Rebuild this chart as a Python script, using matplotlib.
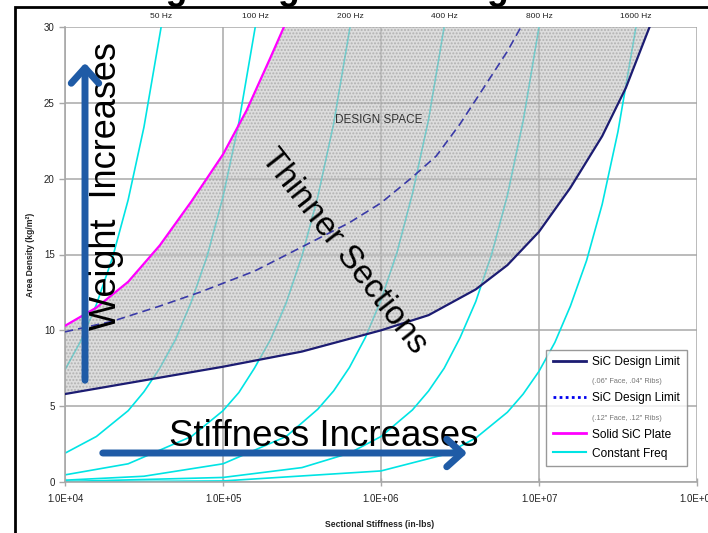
import matplotlib
matplotlib.use("Agg")
import matplotlib.pyplot as plt
from matplotlib.lines import Line2D
from matplotlib.patches import Rectangle
from matplotlib.ticker import FixedLocator, FixedFormatter, NullLocator

plt.rcParams['font.family'] = ['Liberation Sans', 'DejaVu Sans']

# ---------------- data ----------------
# Constant-frequency curves (stiffness in in-lbs, area density in kg/m^2)
stiff_50 = [1.0e4, 1.26e4, 1.58e4, 2.0e4, 2.51e4, 3.16e4, 4.06e4]
dens_50 = [7.4, 9.3, 11.7, 14.8, 18.6, 23.4, 30.0]

stiff_100 = [1.0e4, 1.58e4, 2.51e4, 3.16e4, 3.98e4, 5.01e4, 6.31e4, 7.94e4, 1.0e5, 1.26e5, 1.6e5]
dens_100 = [1.9, 3.0, 4.7, 5.95, 7.5, 9.4, 11.9, 14.9, 18.8, 23.7, 30.0]

stiff_200 = [1.0e4, 2.51e4, 6.31e4, 1.0e5, 1.26e5, 1.58e5, 2.0e5, 2.51e5, 3.16e5, 3.98e5, 5.01e5, 6.37e5]
dens_200 = [0.47, 1.2, 3.0, 4.7, 5.9, 7.5, 9.4, 11.8, 14.9, 18.8, 23.6, 30.0]

stiff_400 = [1.0e4, 3.16e4, 1.0e5, 2.51e5, 3.98e5, 5.01e5, 6.31e5, 7.94e5, 1.0e6, 1.26e6, 1.58e6, 2.0e6, 2.51e6]
dens_400 = [0.12, 0.38, 1.2, 3.0, 4.8, 6.0, 7.55, 9.5, 12.0, 15.1, 19.0, 23.9, 30.0]

stiff_800 = [1.0e4, 1.0e5, 3.16e5, 6.31e5, 1.0e6, 1.58e6, 2.0e6, 2.51e6, 3.16e6, 3.98e6, 5.01e6, 6.31e6, 7.94e6, 1.0e7]
dens_800 = [0.03, 0.3, 0.95, 1.9, 3.0, 4.75, 6.0, 7.5, 9.5, 11.9, 15.0, 18.9, 23.8, 30.0]

stiff_1600 = [1.0e4, 1.0e5, 1.0e6, 2.51e6, 3.98e6, 6.31e6, 7.94e6, 1.0e7, 1.26e7, 1.58e7, 2.0e7, 2.51e7, 3.16e7, 4.11e7]
dens_1600 = [0.01, 0.07, 0.73, 1.8, 2.9, 4.6, 5.8, 7.3, 9.2, 11.6, 14.6, 18.3, 23.1, 30.0]

freq_labels = ["50 Hz", "100 Hz", "200 Hz", "400 Hz", "800 Hz", "1600 Hz"]

# SiC design limit (.06" face, .04" ribs)
stiff_lim1 = [1.0e4, 3.16e4, 1.0e5, 3.16e5, 1.0e6, 2.0e6, 3.98e6, 6.31e6, 1.0e7, 1.58e7, 2.51e7, 3.55e7, 5.01e7]
dens_lim1 = [5.8, 6.7, 7.6, 8.6, 10.0, 11.0, 12.7, 14.3, 16.5, 19.4, 22.8, 26.0, 30.0]

# SiC design limit (.12" face, .12" ribs)
stiff_lim2 = [1.0e4, 2.0e4, 3.98e4, 7.08e4, 1.58e5, 3.16e5, 6.31e5, 1.0e6, 1.58e6, 2.24e6, 3.16e6, 4.47e6, 6.31e6, 7.69e6]
dens_lim2 = [9.9, 10.6, 11.6, 12.5, 13.9, 15.5, 17.1, 18.4, 20.1, 21.5, 23.6, 26.0, 28.4, 30.0]

# Solid SiC plate
stiff_plate = [1.0e4, 1.58e4, 2.51e4, 3.98e4, 6.31e4, 1.0e5, 1.41e5, 2.0e5, 2.43e5]
dens_plate = [10.3, 11.5, 13.2, 15.6, 18.5, 21.6, 24.5, 28.0, 30.0]

x_ticks = [1e4, 1e5, 1e6, 1e7, 1e8]
x_tick_labels = ["1.0E+04", "1.0E+05", "1.0E+06", "1.0E+07", "1.0E+08"]
y_ticks = [0, 5, 10, 15, 20, 25, 30]
y_tick_labels = ["0", "5", "10", "15", "20", "25", "30"]

# ---------------- figure ----------------
W, H = 708, 533
fig = plt.figure(figsize=(W / 100, H / 100), dpi=100)
ax = fig.add_axes([65 / W, 1 - 482 / H, (697 - 65) / W, (482 - 27) / H])

CYAN = '#00e4e4'
NAVY = '#1c1c72'
DASH = '#3a3aa8'
MAG = '#ff00ff'
GRID = '#a8a8a8'

freq_curves = [(stiff_50, dens_50), (stiff_100, dens_100), (stiff_200, dens_200),
               (stiff_400, dens_400), (stiff_800, dens_800), (stiff_1600, dens_1600)]
for (sx, dy), lab in zip(freq_curves, freq_labels):
    ax.plot(sx, dy, color=CYAN, lw=1.2, zorder=1.5, solid_capstyle='butt')
    ax.annotate(lab, xy=(sx[-1], dy[-1]), xytext=(0, 5), textcoords='offset points',
                ha='center', va='bottom', fontsize=6, color='#222222', annotation_clip=False)

# design space polygon (between design limit and solid plate, capped at 30)
poly_x = stiff_lim1 + stiff_plate[::-1]
poly_y = dens_lim1 + dens_plate[::-1]
ax.fill(poly_x, poly_y, facecolor=(0.78, 0.78, 0.78, 0.6), edgecolor=(0.55, 0.55, 0.55, 0.5),
        hatch='.....', lw=0, zorder=2)

ax.plot(stiff_lim1, dens_lim1, color=NAVY, lw=1.6, zorder=3)
ax.plot(stiff_lim2, dens_lim2, color=DASH, lw=1.2, ls=(0, (5, 3)), zorder=3)
ax.plot(stiff_plate, dens_plate, color=MAG, lw=1.6, zorder=3)

ax.set_xscale('log')
ax.set_xlim(1e4, 1e8)
ax.set_ylim(0, 30)
ax.xaxis.set_major_locator(FixedLocator(x_ticks))
ax.xaxis.set_major_formatter(FixedFormatter(x_tick_labels))
ax.xaxis.set_minor_locator(NullLocator())
ax.yaxis.set_major_locator(FixedLocator(y_ticks))
ax.yaxis.set_major_formatter(FixedFormatter(y_tick_labels))
ax.tick_params(axis='both', labelsize=7, colors='#222222', length=4, width=1, color=GRID)
ax.tick_params(axis='x', direction='inout', length=6, pad=6)
ax.set_axisbelow(True)
ax.grid(True, color=GRID, lw=1.1)
for s in ['top', 'right']:
    ax.spines[s].set_visible(False)
for s in ['left', 'bottom']:
    ax.spines[s].set_color(GRID)
    ax.spines[s].set_linewidth(1.2)

ax.set_xlabel("Sectional Stiffness (in-lbs)", fontsize=6.2, fontweight='bold', color='#222222')
ax.set_ylabel("Area Density (kg/m²)", fontsize=6.2, fontweight='bold', color='#222222')
ax.xaxis.set_label_coords(0.497, -0.083)
ax.yaxis.set_label_coords(-0.047, 0.5)

# legend
handles = [Line2D([], [], color=NAVY, lw=2),
           Line2D([], [], color='none'),
           Line2D([], [], color='#0000ee', lw=2, ls=(0, (1, 1.2))),
           Line2D([], [], color='none'),
           Line2D([], [], color=MAG, lw=2),
           Line2D([], [], color=CYAN, lw=1.5)]
labels = ["SiC Design Limit", "(.06\" Face, .04\" Ribs)", "SiC Design Limit",
          "(.12\" Face, .12\" Ribs)", "Solid SiC Plate", "Constant Freq"]
leg = ax.legend(handles, labels, loc='lower right', bbox_to_anchor=(0.984, 0.035),
                fontsize=8.6, frameon=True, fancybox=False, edgecolor='#808080',
                handlelength=2.8, handletextpad=0.5, labelspacing=0.58, borderpad=0.55,
                borderaxespad=0)
leg.get_frame().set_linewidth(1.0)
for i in (1, 3):
    leg.get_texts()[i].set_fontsize(5.3)
    leg.get_texts()[i].set_color('#777777')
leg.set_zorder(6)

# annotations
ax.text(0.496, 0.796, "DESIGN SPACE", transform=ax.transAxes, fontsize=8.5,
        color='#333333', ha='center', va='center', zorder=5)
fig.text(344 / W, 1 - 251 / H, "Thinner Sections", rotation=-52, fontsize=24,
         ha='center', va='center', color='black', zorder=7, rotation_mode='anchor')
fig.text(106 / W, 1 - 186 / H, "Weight  Increases", rotation=90, fontsize=26,
         ha='center', va='center', color='black', zorder=7)
fig.text(324 / W, 1 - 437 / H, "Stiffness Increases", fontsize=26.5,
         ha='center', va='center', color='black', zorder=7)

ARROW = '#1f5ba6'
fig.add_artist(matplotlib.patches.FancyArrowPatch(
    (85, H - 383), (85, H - 60), transform=None,
    arrowstyle='->,head_length=0.5,head_width=0.45', mutation_scale=22,
    lw=5, color=ARROW, zorder=8))
fig.add_artist(matplotlib.patches.FancyArrowPatch(
    (100, H - 453), (470, H - 453), transform=None,
    arrowstyle='->,head_length=0.5,head_width=0.45', mutation_scale=22,
    lw=5, color=ARROW, zorder=8))

# outer frame and clipped heading
fig.add_artist(Rectangle((15 / W, -0.05), 1.2, (H - 7) / H + 0.05, transform=fig.transFigure,
                         fill=False, lw=2, ec='black', zorder=9))
fig.text(134 / W, (H + 1) / H, "Lightweight SiC Design Trades", fontsize=25.6,
         fontweight='bold', ha='left', va='baseline', color='black', zorder=10)

fig.savefig("out.png", dpi=100)
